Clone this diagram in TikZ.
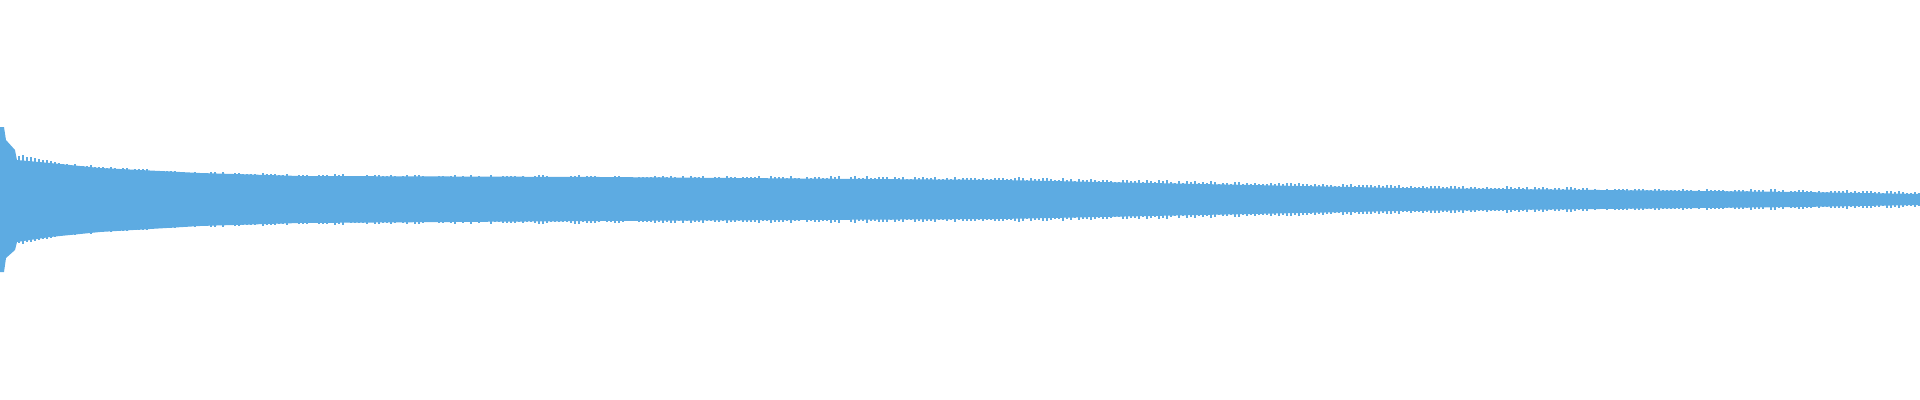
\documentclass[tikz,border=0pt]{standalone}
\definecolor{wave}{RGB}{93,171,226}
\begin{document}
\begin{tikzpicture}[x=0.01cm,y=-0.01cm]
\useasboundingbox (0,0) rectangle (1920,400);
\fill[wave] (0,127) -- (4,127) -- (6,140) -- (15,150) -- (17,160) -- (50,163) -- (100,168) -- (200,173) -- (300,176) -- (600,177) -- (1000,180) -- (1200,184) -- (1400,188) -- (1600,190) -- (1800,192) -- (1920,194)
 -- (1920,205) -- (1800,207) -- (1600,209) -- (1400,211) -- (1200,215) -- (1000,219) -- (600,221) -- (300,223) -- (200,226) -- (100,232) -- (50,237) -- (17,242) -- (15,250) -- (6,258) -- (4,272) -- (0,272) -- cycle;
\pgfmathsetseed{7}
\foreach \x in {2,6,...,1918}{
  \pgfmathsetmacro{\a}{(\x<300 ? 25*exp(-\x/100)+22 : (\x<1000 ? 23-3*(\x-300)/700 : (\x<1400 ? 20-8*(\x-1000)/400 : 12-6*(\x-1400)/520)))}
  \pgfmathsetmacro{\r}{\a+2.5*rnd}
  \fill[wave] (\x,199.5-\r) rectangle (\x+1.5,199.5+\r);
}
\end{tikzpicture}
\end{document}
